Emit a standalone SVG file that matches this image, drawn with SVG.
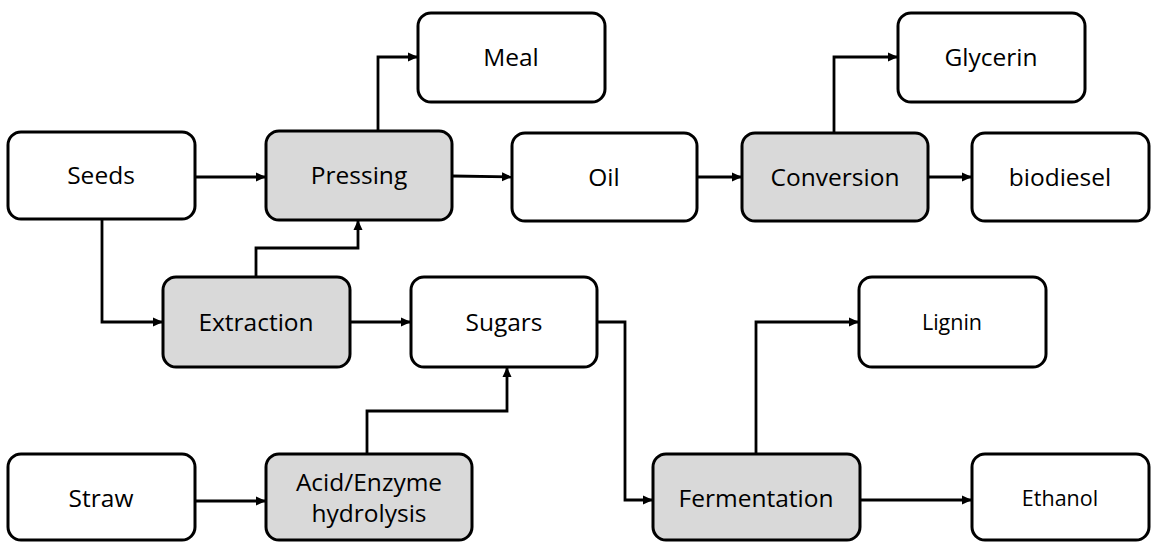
<svg xmlns="http://www.w3.org/2000/svg" width="1151" height="542" viewBox="0 0 1151 542">
<style>
.box{fill:#ffffff;stroke:#000;stroke-width:3}
.proc{fill:#d9d9d9;stroke:#000;stroke-width:3}
.lbl{font-family:"Open Sans","Liberation Sans",sans-serif;font-size:24.5px;fill:#000;text-anchor:middle}
.sm{font-size:21.5px}
.conn{fill:none;stroke:#000;stroke-width:2.8;marker-end:url(#ah)}
</style>
<defs>
<marker id="ah" markerUnits="userSpaceOnUse" markerWidth="11" markerHeight="11" refX="10" refY="5.5" orient="auto">
<path d="M0,1 L10,5.5 L0,10 z" fill="#000"/>
</marker>
</defs>
<rect width="1151" height="542" fill="#fff"/>
<g id="connectors">
<path class="conn" d="M195,177 H266"/>
<path class="conn" d="M378,131 V57 H418"/>
<path class="conn" d="M452,176 L512,177"/>
<path class="conn" d="M697,177 H742"/>
<path class="conn" d="M834,133 V57 H898"/>
<path class="conn" d="M928,177 H972"/>
<path class="conn" d="M102,219 V322 H163"/>
<path class="conn" d="M256,277 V248 H358 V220"/>
<path class="conn" d="M350,322 H411"/>
<path class="conn" d="M367,454 V411 H507 V367"/>
<path class="conn" d="M195,501 H266"/>
<path class="conn" d="M597,322 H625 V500 H653"/>
<path class="conn" d="M756,454 V322 H859"/>
<path class="conn" d="M860,500 H972"/>
</g>
<g id="seeds"><rect class="box" x="8" y="132" width="187" height="87" rx="13"/><text class="lbl" x="101" y="184">Seeds</text></g>
<g id="pressing"><rect class="proc" x="266" y="131" width="186" height="89" rx="13"/><text class="lbl" x="359" y="184">Pressing</text></g>
<g id="meal"><rect class="box" x="418" y="13" width="187" height="89" rx="13"/><text class="lbl" x="511" y="66">Meal</text></g>
<g id="oil"><rect class="box" x="512" y="133" width="185" height="88" rx="13"/><text class="lbl" x="604" y="186">Oil</text></g>
<g id="conversion"><rect class="proc" x="742" y="133" width="186" height="88" rx="13"/><text class="lbl" x="835" y="186">Conversion</text></g>
<g id="glycerin"><rect class="box" x="898" y="13" width="187" height="89" rx="13"/><text class="lbl" x="991" y="66">Glycerin</text></g>
<g id="biodiesel"><rect class="box" x="972" y="133" width="177" height="88" rx="13"/><text class="lbl" x="1060" y="186">biodiesel</text></g>
<g id="extraction"><rect class="proc" x="163" y="277" width="187" height="90" rx="13"/><text class="lbl" x="256" y="331">Extraction</text></g>
<g id="sugars"><rect class="box" x="411" y="277" width="186" height="90" rx="13"/><text class="lbl" x="504" y="331">Sugars</text></g>
<g id="lignin"><rect class="box" x="859" y="277" width="187" height="90" rx="13"/><text class="lbl sm" x="952" y="330">Lignin</text></g>
<g id="straw"><rect class="box" x="8" y="454" width="187" height="86" rx="13"/><text class="lbl" x="101" y="507">Straw</text></g>
<g id="hydrolysis"><rect class="proc" x="266" y="454" width="206" height="86" rx="13"/><text class="lbl" x="369" y="491">Acid/Enzyme</text><text class="lbl" x="369" y="522">hydrolysis</text></g>
<g id="fermentation"><rect class="proc" x="653" y="454" width="207" height="86" rx="13"/><text class="lbl" x="756" y="507">Fermentation</text></g>
<g id="ethanol"><rect class="box" x="972" y="454" width="177" height="86" rx="13"/><text class="lbl sm" x="1060" y="506">Ethanol</text></g>
</svg>
